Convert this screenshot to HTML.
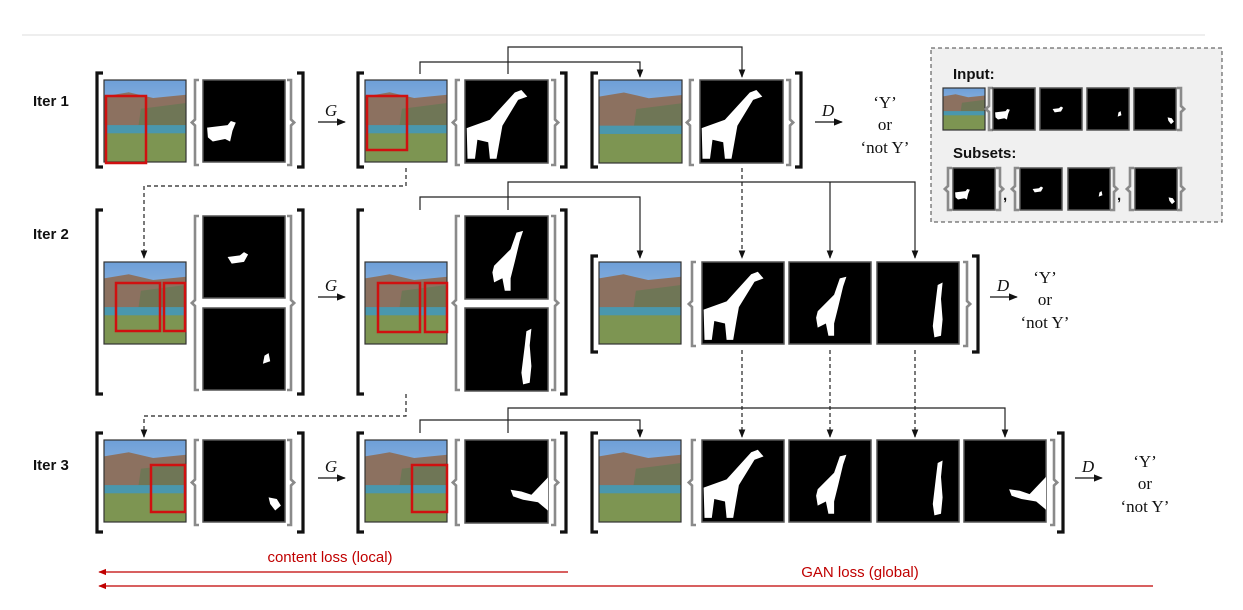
<!DOCTYPE html>
<html><head><meta charset="utf-8"><style>
html,body{margin:0;padding:0;background:#fff;width:1243px;height:610px;overflow:hidden}
svg{display:block}
.lbl{font-family:"Liberation Sans",sans-serif;font-weight:bold;font-size:15px;fill:#111}
.ser{font-family:"Liberation Serif",serif;font-size:17px;fill:#111}
.red{font-family:"Liberation Sans",sans-serif;font-size:15px;fill:#c00000}
</style></head><body>
<svg id="fig" width="1243" height="610" viewBox="0 0 1243 610">
<defs>
<linearGradient id="sky" x1="0" y1="0" x2="0" y2="1">
<stop offset="0" stop-color="#6e9fd8"/><stop offset="1" stop-color="#b7cfe6"/></linearGradient>
<marker id="ah" viewBox="0 0 10 10" refX="9" refY="5" markerWidth="7" markerHeight="7" orient="auto-start-reverse"><path d="M0,1 L10,5 L0,9 z" fill="#111"/></marker>
<marker id="ahr" viewBox="0 0 10 10" refX="9" refY="5" markerWidth="6" markerHeight="6" orient="auto-start-reverse"><path d="M0,1 L10,5 L0,9 z" fill="#c00000"/></marker>
</defs>
<line x1="22" y1="35" x2="1205" y2="35" stroke="#ddd" stroke-width="1"/>
<g id="layer"></g>
<rect x="931" y="48" width="291" height="174" fill="#f0f0f0" stroke="#444" stroke-dasharray="4,3"/>
<g id="layer2"></g>
<text class="lbl" x="953" y="79">Input:</text>
<text class="lbl" x="953" y="158">Subsets:</text>
<text class="lbl" x="1003" y="200">,</text>
<text class="lbl" x="1117" y="200">,</text>
<text class="lbl" x="33" y="106">Iter 1</text>
<text class="lbl" x="33" y="239">Iter 2</text>
<text class="lbl" x="33" y="470">Iter 3</text>
<text class="red" x="330" y="562" text-anchor="middle">content loss (local)</text>
<text class="red" x="860" y="577" text-anchor="middle">GAN loss (global)</text>
<line x1="568" y1="572" x2="99" y2="572" stroke="#c00000" stroke-width="1.3" marker-end="url(#ahr)"/>
<line x1="1153" y1="586" x2="99" y2="586" stroke="#c00000" stroke-width="1.3" marker-end="url(#ahr)"/>
</svg>
<script>
const NS='http://www.w3.org/2000/svg';
const L=document.getElementById('layer');
const L2=document.getElementById('layer2');
function mk(tag,attrs,parent){const e=document.createElementNS(NS,tag);for(const k in attrs)e.setAttribute(k,attrs[k]);(parent||L).appendChild(e);return e;}
const SHAPES={
 sheep:[[0.05,0.58],[0.3,0.55],[0.34,0.5],[0.4,0.52],[0.36,0.62],[0.33,0.75],[0.27,0.72],[0.12,0.75],[0.06,0.7]],
 sheep2:[[0.3,0.5],[0.45,0.48],[0.5,0.44],[0.55,0.47],[0.5,0.56],[0.35,0.58]],
 small:[[0.75,0.58],[0.8,0.55],[0.82,0.65],[0.73,0.68]],
 edge:[[0.8,0.7],[0.9,0.72],[0.95,0.8],[0.88,0.86],[0.82,0.78]],
 giraffe:[[0.02,0.58],[0.3,0.48],[0.6,0.15],[0.68,0.12],[0.75,0.2],[0.64,0.24],[0.45,0.55],[0.42,0.72],[0.38,0.95],[0.3,0.95],[0.28,0.75],[0.15,0.72],[0.12,0.95],[0.03,0.95]],
 giraffe2:[[0.35,0.6],[0.55,0.4],[0.62,0.2],[0.7,0.18],[0.66,0.3],[0.6,0.55],[0.55,0.75],[0.55,0.9],[0.48,0.9],[0.45,0.75],[0.35,0.8],[0.33,0.68]],
 thin:[[0.68,0.78],[0.72,0.45],[0.74,0.28],[0.8,0.25],[0.78,0.45],[0.8,0.7],[0.78,0.9],[0.7,0.92]],
 neck:[[0.55,0.6],[0.68,0.62],[0.8,0.66],[1,0.45],[1,0.85],[0.88,0.75],[0.7,0.72],[0.58,0.68]]
};
function photo(x,y,s,name){
 const g=mk('g',{});
 
 
 mk('rect',{x:x,y:y,width:s,height:s,fill:'url(#sky)'},g);
 mk('polygon',{points:`${x},${y+s*0.2} ${x+s*0.3},${y+s*0.15} ${x+s*0.6},${y+s*0.22} ${x+s},${y+s*0.18} ${x+s},${y+s*0.7} ${x},${y+s*0.7}`,fill:'#8c7160'},g);
 mk('polygon',{points:`${x+s*0.45},${y+s*0.35} ${x+s},${y+s*0.28} ${x+s},${y+s*0.7} ${x+s*0.4},${y+s*0.7}`,fill:'#6f7656'},g);
 mk('rect',{x:x,y:y+s*0.55,width:s,height:s*0.12,fill:'#4a97ad'},g);
 mk('rect',{x:x,y:y+s*0.65,width:s,height:s*0.35,fill:'#7d9552'},g);
 mk('rect',{x:x,y:y,width:s,height:s,fill:'none',stroke:'#333','stroke-width':1.2},g);
 return g;
}
function mask(x,y,s,shape,name,par){
 const g=mk('g',{},par);
 
 
 mk('rect',{x:x,y:y,width:s,height:s,fill:'#000',stroke:'#555','stroke-width':1.5},g);
 if(shape)mk('polygon',{points:SHAPES[shape].map(p=>`${(x+p[0]*s).toFixed(1)},${(y+p[1]*s).toFixed(1)}`).join(' '),fill:'#fff'},g);
}
function bracket(x,y1,y2,dir,name){
 const d=dir*6;
 const p=mk('path',{d:`M${x+d},${y1} L${x},${y1} L${x},${y2} L${x+d},${y2}`,fill:'none',stroke:'#111','stroke-width':3.2});
 
 
}
function brace(x,y1,y2,dir,name,par){
 const d=dir*4,m=(y1+y2)/2;
 const p=mk('path',{d:`M${x+d},${y1} L${x},${y1} L${x},${m-3} L${x-d*0.8},${m} L${x},${m+3} L${x},${y2} L${x+d},${y2}`,fill:'none',stroke:'#8a8a8a','stroke-width':2.6},par);
 
 
}
function path(pts,dashed,name){
 const a={points:pts.map(p=>p.join(',')).join(' '),fill:'none',stroke:'#222','stroke-width':1.2,'marker-end':'url(#ah)'};
 if(dashed)a['stroke-dasharray']='4,3';
 const e=mk('polyline',a);
 
 
}
function red(x,y,w,h,name){
 const r=mk('rect',{x:x,y:y,width:w,height:h,fill:'none',stroke:'#d01010','stroke-width':2.5});
 
 
}
function op(x,y,ch,name){
 const l=mk('line',{x1:x,y1:y,x2:x+27,y2:y,stroke:'#111','stroke-width':1.3,'marker-end':'url(#ah)'});
 
 
 const t=mk('text',{x:x+13,y:y-6,'text-anchor':'middle',class:'ser','font-style':'italic'});
 t.textContent=ch;
 
 
}
function out(x,y,name){
 [['\u2018Y\u2019',0],['or',22],['\u2018not Y\u2019',45]].forEach((v,i)=>{
  const t=mk('text',{x:x,y:y+v[1],'text-anchor':'middle',class:'ser'});
  t.textContent=v[0];
  
  
 });
}
// Row 1
bracket(97,73,167,1,'r1-bracket-l');photo(104,80,82,'r1-photo');red(106,96,40,67,'r1-red-box');
brace(195,80,165,1,'r1-brace-l');mask(203,80,82,'sheep','r1-mask');brace(291,80,165,-1,'r1-brace-r');bracket(303,73,167,-1,'r1-bracket-r');
op(318,122,'G','r1-g');
bracket(358,73,167,1,'r1o-bracket-l');photo(365,80,82,'r1-out-photo');red(367,96,40,54,'r1-out-red');
brace(456,80,165,1,'r1o-brace-l');mask(465,80,83,'giraffe','r1-out-mask');brace(555,80,165,-1,'r1o-brace-r');bracket(566,73,167,-1,'r1o-bracket-r');
bracket(592,73,167,1,'r1d-bracket-l');photo(599,80,83,'r1-d-photo');brace(690,80,165,1,'r1d-brace-l');mask(700,80,83,'giraffe','r1-d-mask');brace(790,80,165,-1,'r1d-brace-r');bracket(801,73,167,-1,'r1d-bracket-r');
op(815,122,'D','r1-d');out(885,108,'r1-out');
path([[420,74],[420,62],[640,62],[640,77]],false,'r1-link-photo');
path([[508,74],[508,47],[742,47],[742,77]],false,'r1-link-mask');
// Row 2
bracket(97,210,394,1,'r2-bracket-l');photo(104,262,82,'r2-photo');red(116,283,44,48,'r2-red-a');red(164,283,21,48,'r2-red-b');
brace(195,216,390,1,'r2-brace-l');mask(203,216,82,'sheep2','r2-mask-a');mask(203,308,82,'small','r2-mask-b');brace(291,216,390,-1,'r2-brace-r');bracket(303,210,394,-1,'r2-bracket-r');
op(318,297,'G','r2-g');
bracket(358,210,394,1,'r2o-bracket-l');photo(365,262,82,'r2-out-photo');red(378,283,42,49,'r2-out-red-a');red(425,283,22,49,'r2-out-red-b');
brace(456,216,390,1,'r2o-brace-l');mask(465,216,83,'giraffe2','r2-out-mask-a');mask(465,308,83,'thin','r2-out-mask-b');brace(555,216,390,-1,'r2o-brace-r');bracket(566,210,394,-1,'r2o-bracket-r');
bracket(592,256,352,1,'r2d-bracket-l');photo(599,262,82,'r2-d-photo');brace(692,262,346,1,'r2d-brace-l');
mask(702,262,82,'giraffe','r2-d-mask-1');mask(789,262,82,'giraffe2','r2-d-mask-2');mask(877,262,82,'thin','r2-d-mask-3');
brace(967,262,346,-1,'r2d-brace-r');bracket(978,256,352,-1,'r2d-bracket-r');
op(990,297,'D','r2-d');out(1045,283,'r2-out');
path([[406,168],[406,186],[144,186],[144,258]],true,'r1-r2-dashed');
path([[742,168],[742,258]],true,'r1-mask-dashed');
path([[420,210],[420,197],[640,197],[640,258]],false,'r2-link-photo');
path([[508,210],[508,182],[915,182],[915,258]],false,'r2-link-mask');
path([[830,182],[830,258]],false,'r2-link-mask-2');
// Row 3
bracket(97,433,532,1,'r3-bracket-l');photo(104,440,82,'r3-photo');red(151,465,34,47,'r3-red');
brace(195,440,525,1,'r3-brace-l');mask(203,440,82,'edge','r3-mask');brace(291,440,525,-1,'r3-brace-r');bracket(303,433,532,-1,'r3-bracket-r');
op(318,478,'G','r3-g');
bracket(358,433,532,1,'r3o-bracket-l');photo(365,440,82,'r3-out-photo');red(412,465,35,47,'r3-out-red');
brace(456,440,525,1,'r3o-brace-l');mask(465,440,83,'neck','r3-out-mask');brace(555,440,525,-1,'r3o-brace-r');bracket(566,433,532,-1,'r3o-bracket-r');
bracket(592,433,532,1,'r3d-bracket-l');photo(599,440,82,'r3-d-photo');brace(692,440,525,1,'r3d-brace-l');
mask(702,440,82,'giraffe','r3-d-mask-1');mask(789,440,82,'giraffe2','r3-d-mask-2');mask(877,440,82,'thin','r3-d-mask-3');mask(964,440,82,'neck','r3-d-mask-4');
brace(1054,440,525,-1,'r3d-brace-r');bracket(1063,433,532,-1,'r3d-bracket-r');
op(1075,478,'D','r3-d');out(1145,467,'r3-out');
path([[406,394],[406,416],[144,416],[144,437]],true,'r2-r3-dashed');
path([[742,350],[742,437]],true,'r2-mask1-dashed');
path([[830,350],[830,437]],true,'r2-mask2-dashed');
path([[915,350],[915,437]],true,'r2-mask3-dashed');
path([[420,433],[420,420],[640,420],[640,437]],false,'r3-link-photo');
path([[508,433],[508,408],[1005,408],[1005,437]],false,'r3-link-mask');
// Legend box images
const lp=photo(943,88,42,'legend-input-photo');L2.appendChild(lp);
brace(989,88,130,1,'legend-input-brace-l',L2);
mask(993,88,42,'sheep','legend-input-mask-1',L2);mask(1040,88,42,'sheep2','legend-input-mask-2',L2);
mask(1087,88,42,'small','legend-input-mask-3',L2);mask(1134,88,42,'edge','legend-input-mask-4',L2);
brace(1181,88,130,-1,'legend-input-brace-r',L2);
brace(948,168,210,1,'legend-subset1-brace-l',L2);mask(953,168,42,'sheep','legend-subset-mask-1',L2);brace(1000,168,210,-1,'legend-subset1-brace-r',L2);
brace(1015,168,210,1,'legend-subset2-brace-l',L2);mask(1020,168,42,'sheep2','legend-subset-mask-2',L2);mask(1068,168,42,'small','legend-subset-mask-3',L2);brace(1114,168,210,-1,'legend-subset2-brace-r',L2);
brace(1130,168,210,1,'legend-subset3-brace-l',L2);mask(1135,168,42,'edge','legend-subset-mask-4',L2);brace(1181,168,210,-1,'legend-subset3-brace-r',L2);
</script>
</body></html>
